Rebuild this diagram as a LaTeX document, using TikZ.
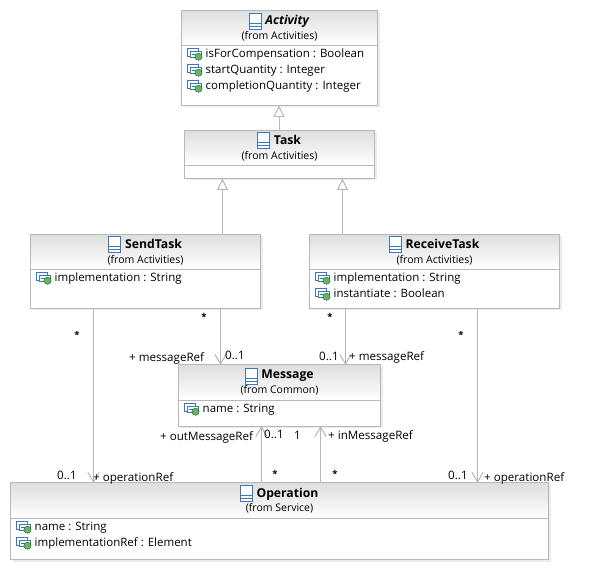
\documentclass[tikz,border=0pt]{standalone}
\usepackage{fontspec}
\setmainfont{Open Sans}
\usetikzlibrary{arrows.meta,calc}
\definecolor{ln}{RGB}{184,184,184}
\definecolor{ic}{RGB}{60,120,185}
\definecolor{gd}{RGB}{110,175,110}
\tikzset{
 x=1pt,y=-1pt,
 umlbox/.style={draw=ln,line width=1pt,inner sep=0pt,outer sep=0pt,anchor=north west},
 title/.style={inner sep=0pt,anchor=base,font=\fontsize{12.2}{13}\selectfont\bfseries},
 fromlab/.style={inner sep=0pt,anchor=base,font=\fontsize{10.5}{11}\selectfont},
 attr/.style={inner sep=0pt,anchor=base west,font=\fontsize{11.5}{13}\selectfont},
 lab/.style={inner sep=0pt,anchor=base west,font=\fontsize{11.6}{12}\selectfont},
 star/.style={inner sep=0pt,font=\fontsize{9.5}{12}\selectfont\bfseries},
 gen/.style={draw=ln,line width=1pt,-{Triangle[open,length=11.5pt,width=11pt,fill=white]}},
 assoc/.style={draw=ln,line width=1pt,-{Straight Barb[length=9.5pt,width=11pt,line width=1pt,round=false]}},
 classicon/.pic={
  \draw[ic,line width=.9pt,fill=white] (-6,-8) rectangle (6,8);
  \draw[ic,line width=.9pt] (-6,2) -- (6,2) (-6,5) -- (6,5);
 },
 attricon/.pic={
  \draw[ic,line width=.9pt,fill=white] (-7,-5) rectangle (4,3);
  \draw[ic,line width=.9pt,fill=white] (-4,-2) rectangle (7,4);
  \draw[ic,line width=.6pt] (-2,1) -- (5,1);
  \draw[black!55!green,line width=.4pt,fill=gd] (4.5,3.7) circle (3.6);
 }
}
% name, x1,y1,x2,y2,sep, title, from
\newcommand{\umlclass}[8]{%
 \fill[black!8] (#2+2,#3+2) rectangle (#4+2,#5+2);
 \fill[white] (#2,#3) rectangle (#4,#5);
 \shade[top color=black!13,bottom color=white] (#2,#3) rectangle (#4,#6);
 \node[umlbox,minimum width=#4pt-#2pt,minimum height=#5pt-#3pt] (#1) at (#2,#3) {};
 \draw[ln,line width=1pt] (#2,#6) -- (#4,#6);
 \node[title] (#1t) at ({(#2+#4)/2+8},#3+14.5) {#7};
 \pic at ($(#1t.west)+(-10,0)$) {classicon};
 \node[fromlab] (#1f) at ({(#2+#4)/2},#3+29) {(from #8)};
}
% name, x, y, text
\newcommand{\umlattr}[4]{%
 \pic at (#2+12.5,#3) {attricon};
 \node[attr] (#1) at (#2+24,#3+4.5) {#4};
}
\begin{document}
\begin{tikzpicture}
\useasboundingbox (0,0) rectangle (590,572);
\fill[white] (0,0) rectangle (590,572);
\umlclass{act}{181.5}{10.5}{377.5}{105.5}{45.5}{\textit{Activity}}{Activities}
\umlattr{a1}{181.5}{53}{isForCompensation : Boolean}
\umlattr{a2}{181.5}{69}{startQuantity : Integer}
\umlattr{a3}{181.5}{85}{completionQuantity : Integer}
\umlclass{task}{184.5}{130.5}{374.5}{178.5}{165.5}{Task}{Activities}
\umlclass{send}{30.5}{234.5}{260.5}{308.5}{269.5}{SendTask}{Activities}
\umlattr{s1}{30.5}{277}{implementation : String}
\umlclass{recv}{309.5}{234.5}{559.5}{308.5}{269.5}{ReceiveTask}{Activities}
\umlattr{r1}{309.5}{277}{implementation : String}
\umlattr{r2}{309.5}{293}{instantiate : Boolean}
\umlclass{msg}{178.5}{364.5}{380.5}{426.5}{400.5}{Message}{Common}
\umlattr{m1}{178.5}{408}{name : String}
\umlclass{op}{10.5}{482.5}{548.5}{559.5}{518.5}{Operation}{Service}
\umlattr{o1}{10.5}{526}{name : String}
\umlattr{o2}{10.5}{542}{implementationRef : Element}

\coordinate (xa) at (279,0);
\coordinate (xb) at (222.5,0);
\coordinate (xc) at (342.5,0);
\coordinate (xd) at (93.5,0);
\coordinate (xe) at (220.5,0);
\coordinate (xf) at (345.5,0);
\coordinate (xg) at (477.5,0);
\coordinate (xh) at (261.5,0);
\coordinate (xi) at (320.5,0);
\draw[gen] (task.north -| xa) -- (act.south -| xa);
\draw[gen] (send.north -| xb) -- (task.south -| xb);
\draw[gen] (recv.north -| xc) -- (task.south -| xc);
\draw[assoc] (send.south -| xd) -- (op.north -| xd);
\draw[assoc] (send.south -| xe) -- (msg.north -| xe);
\draw[assoc] (recv.south -| xf) -- (msg.north -| xf);
\draw[assoc] (recv.south -| xg) -- (op.north -| xg);
\draw[assoc] (op.north -| xh) -- (msg.south -| xh);
\draw[assoc] (op.north -| xi) -- (msg.south -| xi);

\node[star] (st1) at (77,335) {*};
\node[star] (st2) at (204,317) {*};
\node[star] (st3) at (330,317) {*};
\node[star] (st4) at (461,335) {*};
\node[star] (st5) at (275,474) {*};
\node[star] (st6) at (335,474) {*};
\node[lab] (l1) at (129,362) {+ messageRef};
\node[lab] (l2) at (225,360) {0..1};
\node[lab] (l3) at (319,361) {0..1};
\node[lab] (l4) at (349,361) {+ messageRef};
\node[lab] (l5) at (160,441) {+ outMessageRef};
\node[lab] (l6) at (264,439) {0..1};
\node[lab] (l7) at (294,440) {1};
\node[lab] (l8) at (328,440) {+ inMessageRef};
\node[lab] (l9) at (57,480) {0..1};
\node[lab] (l10) at (93,482) {+ operationRef};
\node[lab] (l11) at (448,480) {0..1};
\node[lab] (l12) at (484,482) {+ operationRef};
\end{tikzpicture}
\end{document}
